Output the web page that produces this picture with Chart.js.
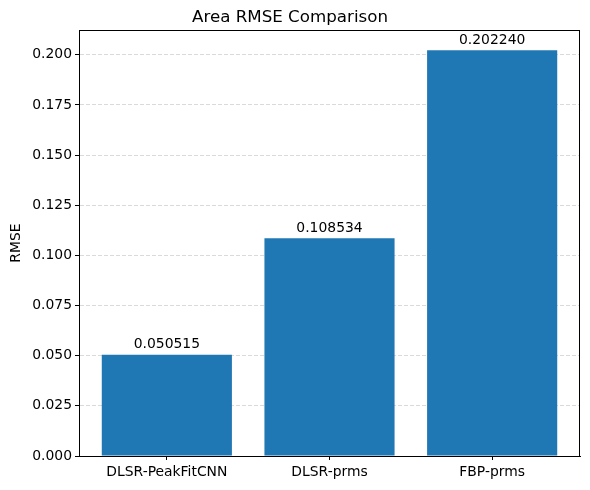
<!DOCTYPE html>
<html>
<head>
<meta charset="utf-8">
<script src="https://cdn.jsdelivr.net/npm/chart.js@4/dist/chart.umd.min.js"></script>
<style>
  html, body { margin: 0; padding: 0; background: #fff; }
  #wrap { width: 590px; height: 490px; }
</style>
</head>
<body>
<div id="wrap"><canvas id="rmse-chart"></canvas></div>
<script>
  // values
  const categories = ['DLSR-PeakFitCNN', 'DLSR-prms', 'FBP-prms'];
  const rmseValues = [0.050515, 0.108534, 0.202240];
  const yTickStep = 0.025;

  const FONT = 'DejaVu Sans';

  // matplotlib style limits: 5% margin around the bars
  const span = categories.length - 1 + 0.8;
  const xMin = -0.4 - 0.05 * span;
  const xMax = categories.length - 1 + 0.4 + 0.05 * span;
  const yMax = Math.max(...rmseValues) * 1.05;

  const framePlugin = {
    id: 'frame',
    afterDatasetsDraw(chart) {
      const { ctx, chartArea } = chart;
      ctx.save();
      ctx.strokeStyle = '#000';
      ctx.lineWidth = 1;
      ctx.strokeRect(Math.round(chartArea.left) + 0.5, Math.round(chartArea.top) + 0.5,
        Math.round(chartArea.right - chartArea.left) - 1, Math.round(chartArea.bottom - chartArea.top));
      ctx.restore();
    }
  };

  const valueLabels = {
    id: 'valueLabels',
    afterDatasetsDraw(chart) {
      const { ctx } = chart;
      const meta = chart.getDatasetMeta(0);
      ctx.save();
      ctx.font = '13.9px "' + FONT + '"';
      ctx.fillStyle = '#000';
      ctx.textAlign = 'center';
      ctx.textBaseline = 'bottom';
      meta.data.forEach((bar, i) => {
        ctx.fillText(rmseValues[i].toFixed(6), bar.x, bar.y - 3);
      });
      ctx.restore();
    }
  };

  new Chart(document.getElementById('rmse-chart'), {
    type: 'bar',
    data: {
      datasets: [{
        label: 'RMSE',
        data: categories.map((c, i) => ({ x: i, y: rmseValues[i] })),
        backgroundColor: '#1f77b4',
        borderWidth: 0,
        barPercentage: 0.8,
        categoryPercentage: 1.0
      }]
    },
    options: {
      responsive: true,
      maintainAspectRatio: false,
      animation: false,
      layout: { padding: { left: 0, right: 10, top: 0, bottom: 0 } },
      plugins: {
        legend: { display: false },
        tooltip: { enabled: false },
        title: {
          display: true,
          text: 'Area RMSE Comparison',
          color: '#000',
          font: { family: FONT, size: 16.7, weight: 'normal' },
          padding: { top: 8, bottom: 2 }
        }
      },
      scales: {
        x: {
          type: 'linear',
          min: xMin,
          max: xMax,
          offset: false,
          afterBuildTicks(scale) {
            scale.ticks = categories.map((c, i) => ({ value: i }));
          },
          afterFit(scale) { scale.height = 34; },
          ticks: {
            callback: (v) => categories[Math.round(v)],
            color: '#000',
            font: { family: FONT, size: 13.9 },
            padding: 4,
            maxRotation: 0,
            autoSkip: false
          },
          grid: {
            offset: false,
            drawOnChartArea: false,
            drawTicks: true,
            tickLength: 4,
            tickColor: '#000'
          },
          border: { color: '#000', width: 1 }
        },
        y: {
          min: 0,
          max: yMax,
          afterFit(scale) { scale.width = 79; },
          ticks: {
            stepSize: yTickStep,
            includeBounds: false,
            callback: (v) => v.toFixed(3),
            color: '#000',
            font: { family: FONT, size: 13.9 },
            padding: 3
          },
          grid: {
            color: 'rgba(176,176,176,0.6)',
            lineWidth: 0.8,
            tickLength: 4,
            tickColor: '#000',
            tickBorderDash: [],
            tickWidth: 1
          },
          border: { color: '#000', width: 1, dash: [4, 2] },
          title: {
            display: true,
            text: 'RMSE',
            color: '#000',
            font: { family: FONT, size: 13.9 },
            padding: { top: 8, bottom: 0 }
          }
        }
      }
    },
    plugins: [framePlugin, valueLabels]
  });
</script>
</body>
</html>
